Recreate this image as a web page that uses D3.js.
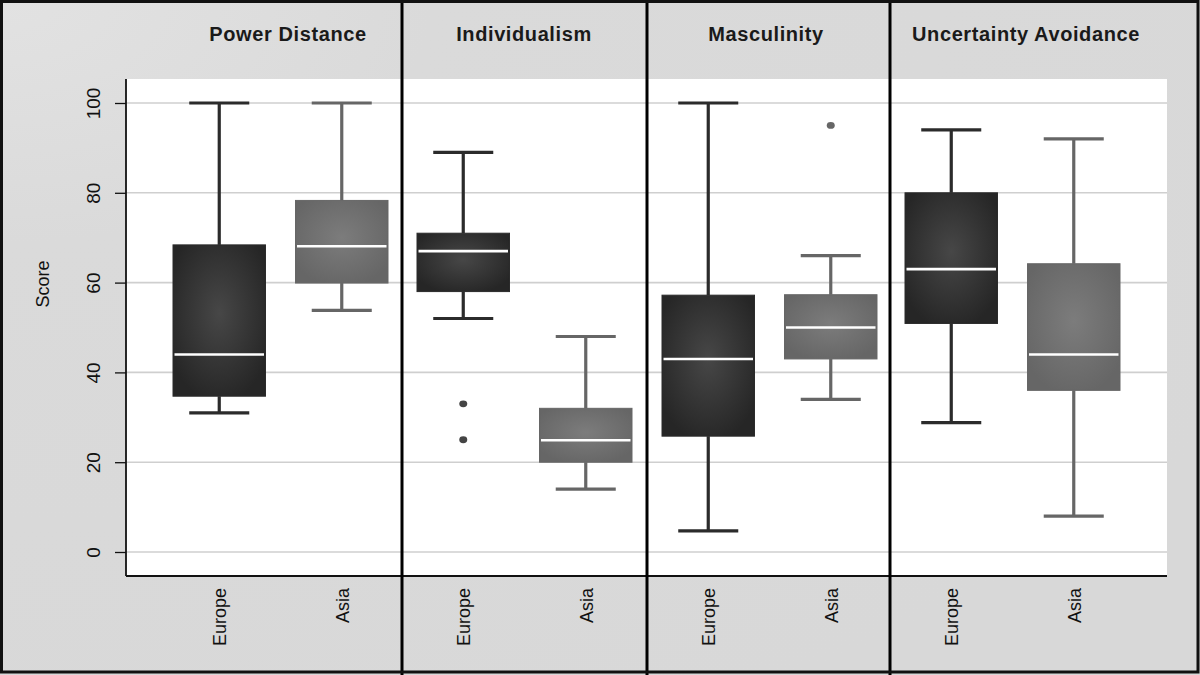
<!DOCTYPE html>
<html><head><meta charset="utf-8">
<script src="https://cdn.jsdelivr.net/npm/d3@7"></script>
<style>html,body{margin:0;padding:0;background:#fff}svg{display:block}</style>
</head><body><div id="chart"></div>
<script>
const panels = ["Power Distance","Individualism","Masculinity","Uncertainty Avoidance"];
const regions = ["Europe","Asia"];
const yTicks = [0,20,40,60,80,100];
// [lowWhisker, Q1, median, Q3, highWhisker] per panel, per region
const europeStats = [
  [31, 34.7, 44, 68.4, 100],
  [52, 58, 67, 71, 89],
  [4.7, 25.8, 43, 57.2, 100],
  [28.8, 50.9, 63, 80, 94]
];
const asiaStats = [
  [53.8, 59.9, 68.1, 78.3, 100],
  [14, 20, 24.9, 32, 48],
  [34, 43, 50, 57.3, 66],
  [8, 36, 44, 64.2, 92]
];
const europeOutliers = [[], [33, 25], [], []];
const asiaOutliers = [[], [], [95], []];

const W = 1200, H = 675;
const plotL = 126, plotR = 1167, plotT = 79, plotB = 576;
const panelStarts = [158, 402, 647, 890];
const panelW = 245;
const dividers = [402, 647, 890];

const svg = d3.select("#chart").append("svg").attr("width", W).attr("height", H);
const defs = svg.append("defs");
const bg = defs.append("radialGradient").attr("id","bg").attr("cx","0%").attr("cy","0%").attr("r","120%");
bg.append("stop").attr("offset","0%").attr("stop-color","#e2e2e2");
bg.append("stop").attr("offset","30%").attr("stop-color","#dadada");
bg.append("stop").attr("offset","100%").attr("stop-color","#d8d8d8");
const gE = defs.append("radialGradient").attr("id","gEurope").attr("cx","50%").attr("cy","45%").attr("r","60%");
gE.append("stop").attr("offset","0%").attr("stop-color","#474747");
gE.append("stop").attr("offset","100%").attr("stop-color","#262626");
const gA = defs.append("radialGradient").attr("id","gAsia").attr("cx","50%").attr("cy","45%").attr("r","60%");
gA.append("stop").attr("offset","0%").attr("stop-color","#7c7c7c");
gA.append("stop").attr("offset","100%").attr("stop-color","#666666");

svg.append("rect").attr("x",0).attr("y",0).attr("width",W).attr("height",H).attr("fill","url(#bg)");
svg.append("rect").attr("x",plotL).attr("y",plotT).attr("width",plotR-plotL).attr("height",plotB-plotT).attr("fill","#ffffff");

const y = d3.scaleLinear().domain([0,100]).range([552,103]);

svg.append("g").selectAll("line").data(yTicks).join("line")
  .attr("x1",plotL).attr("x2",plotR).attr("y1",d=>y(d)).attr("y2",d=>y(d))
  .attr("stroke","#cfcfcf").attr("stroke-width",1.6);

const font = "Liberation Sans, Arial, sans-serif";

const yAxis = svg.append("g").attr("transform",`translate(${plotL},0)`)
  .call(d3.axisLeft(y).tickValues(yTicks).tickSize(11).tickPadding(0));
yAxis.select(".domain").remove();
yAxis.selectAll(".tick line").attr("stroke","#111").attr("stroke-width",1.3);
yAxis.selectAll(".tick text").attr("transform",`translate(-33,0) rotate(-90)`)
  .attr("x",0).attr("dy","0.35em").attr("text-anchor","middle")
  .attr("font-family",font).attr("font-size",19).attr("fill","#111");
svg.append("line").attr("x1",plotL).attr("x2",plotL).attr("y1",plotT).attr("y2",plotB).attr("stroke","#111").attr("stroke-width",1.8);
svg.append("line").attr("x1",plotL).attr("x2",plotR).attr("y1",plotB).attr("y2",plotB).attr("stroke","#111").attr("stroke-width",2);

svg.append("text").attr("transform",`translate(49,284) rotate(-90)`)
  .attr("text-anchor","middle").attr("font-family",font)
  .attr("font-size",18).attr("fill","#111").text("Score");

const titleX = [288, 524, 766, 1026];

panels.forEach((p,i)=>{
  const x = d3.scaleBand().domain(regions).range([panelStarts[i], panelStarts[i]+panelW]);
  const bw = x.bandwidth();
  const g = svg.append("g");
  const data = [
    {r:"Europe", s:europeStats[i], out:europeOutliers[i], fill:"url(#gEurope)", line:"#2b2b2b", dot:"#444"},
    {r:"Asia", s:asiaStats[i], out:asiaOutliers[i], fill:"url(#gAsia)", line:"#666666", dot:"#666"}
  ];
  data.forEach(d=>{
    const cx = x(d.r) + bw/2;
    const boxW = bw*0.755, capW = bw*0.49;
    g.append("line").attr("x1",cx).attr("x2",cx).attr("y1",y(d.s[4])).attr("y2",y(d.s[3])).attr("stroke",d.line).attr("stroke-width",3.2);
    g.append("line").attr("x1",cx).attr("x2",cx).attr("y1",y(d.s[1])).attr("y2",y(d.s[0])).attr("stroke",d.line).attr("stroke-width",3.2);
    g.append("line").attr("x1",cx-capW/2).attr("x2",cx+capW/2).attr("y1",y(d.s[4])).attr("y2",y(d.s[4])).attr("stroke",d.line).attr("stroke-width",3.2);
    g.append("line").attr("x1",cx-capW/2).attr("x2",cx+capW/2).attr("y1",y(d.s[0])).attr("y2",y(d.s[0])).attr("stroke",d.line).attr("stroke-width",3.2);
    g.append("rect").attr("x",cx-boxW/2).attr("y",y(d.s[3])).attr("width",boxW).attr("height",y(d.s[1])-y(d.s[3]))
      .attr("fill",d.fill).attr("stroke",d.line).attr("stroke-width",1);
    g.append("line").attr("x1",cx-boxW/2+1.5).attr("x2",cx+boxW/2-1.5).attr("y1",y(d.s[2])).attr("y2",y(d.s[2])).attr("stroke","#ffffff").attr("stroke-width",2.6);
    g.selectAll(null).data(d.out).join("ellipse").attr("cx",cx).attr("cy",v=>y(v)).attr("rx",4).attr("ry",3.4).attr("fill",d.dot);
    svg.append("text").attr("transform",`translate(${cx+7},588) rotate(-90)`).attr("text-anchor","end")
      .attr("font-family",font).attr("font-size",18).attr("fill","#111").text(d.r);
  });
  svg.append("text").attr("x",titleX[i]).attr("y",41).attr("text-anchor","middle")
    .attr("font-family",font).attr("font-size",20).attr("font-weight","bold")
    .attr("letter-spacing",0.6).attr("fill","#1a1a1a").text(p);
});

svg.append("g").selectAll("line").data(dividers).join("line")
  .attr("x1",d=>d).attr("x2",d=>d).attr("y1",0).attr("y2",H)
  .attr("stroke","#000").attr("stroke-width",3);
svg.append("rect").attr("x",1.5).attr("y",1.5).attr("width",W-3.5).attr("height",H-4.5).attr("fill","none").attr("stroke","#111").attr("stroke-width",3);
</script></body></html>
